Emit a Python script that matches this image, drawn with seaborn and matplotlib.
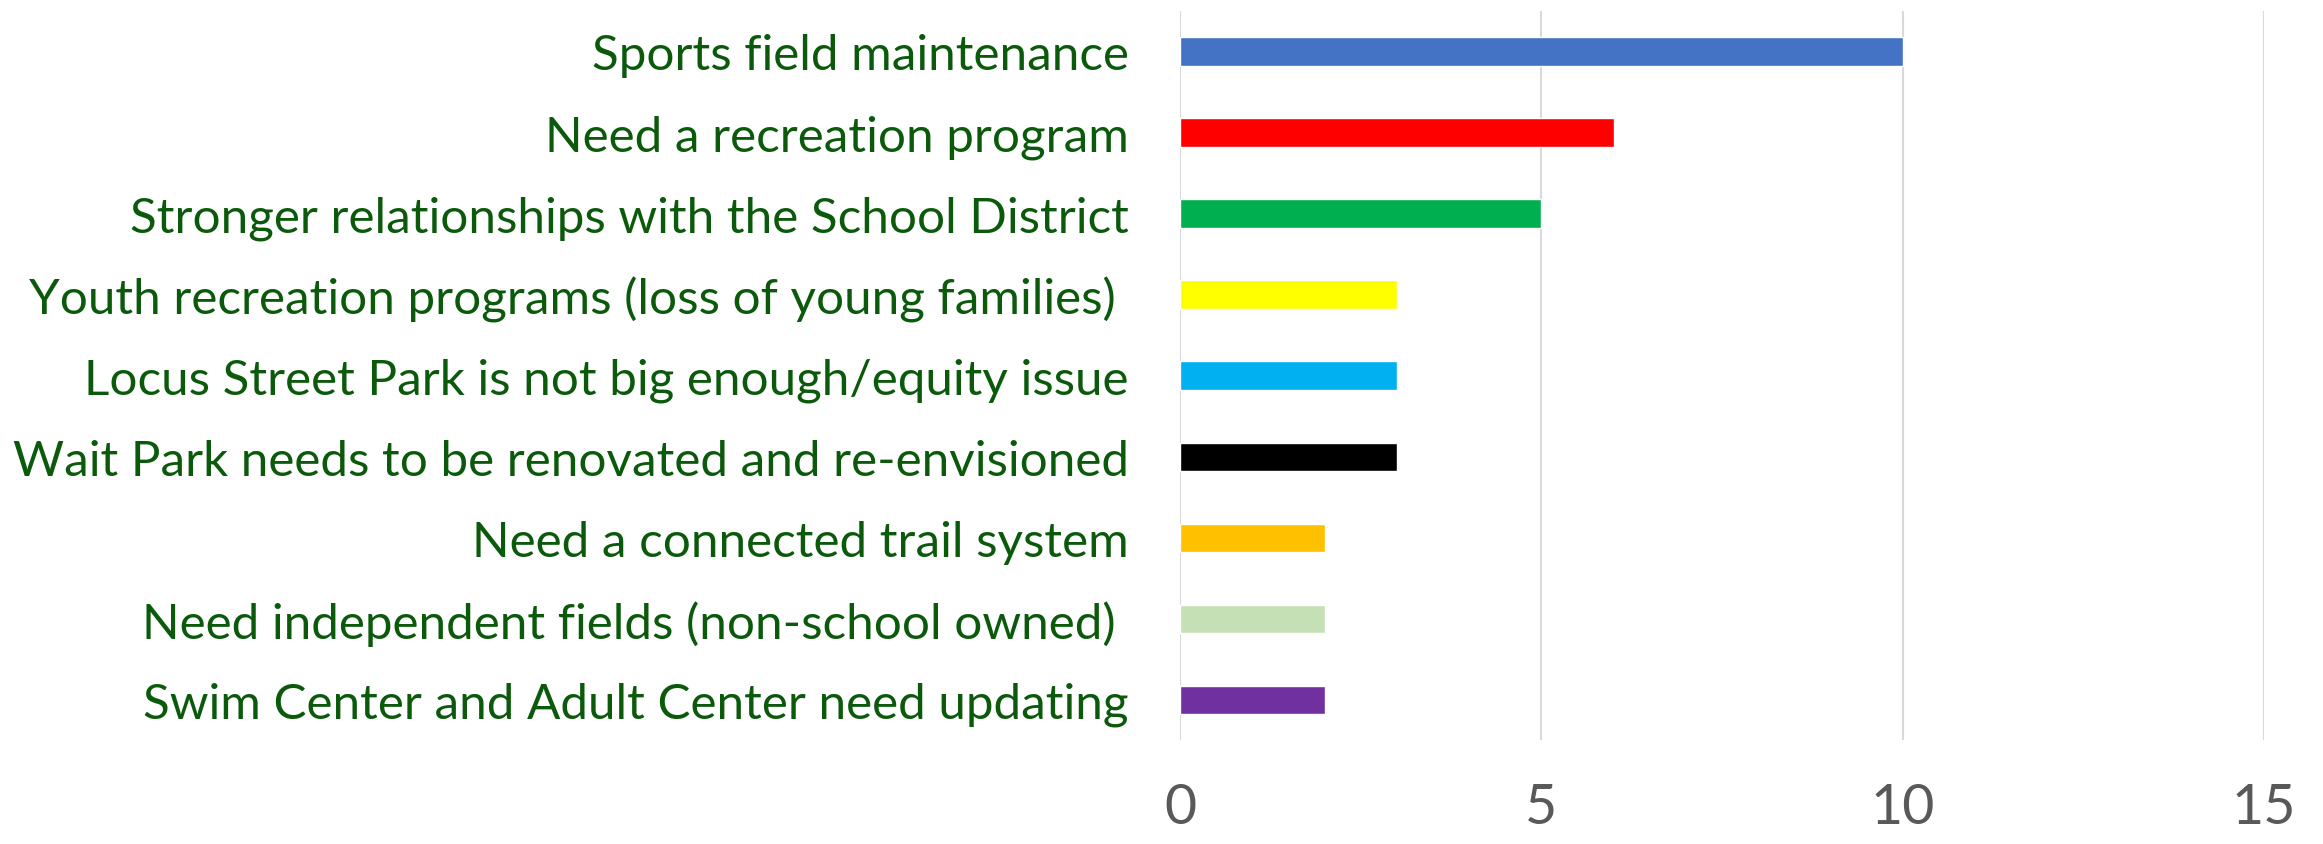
#!/usr/bin/env python3

import pandas as pd
import matplotlib
matplotlib.use("Agg")
import matplotlib.pyplot as plt
import seaborn as sb

# chart data #
issues = [
    "Sports field maintenance",
    "Need a recreation program",
    "Stronger relationships with the School District",
    "Youth recreation programs (loss of young families) ",
    "Locus Street Park is not big enough/equity issue",
    "Wait Park needs to be renovated and re-envisioned",
    "Need a connected trail system",
    "Need independent fields (non-school owned) ",
    "Swim Center and Adult Center need updating",
]
counts = [10, 6, 5, 3, 3, 3, 2, 2, 2]
bar_colors = ["#4472C4", "#FF0000", "#00B050", "#FFFF00", "#00B0F0",
              "#000000", "#FFC000", "#C5E0B4", "#7030A0"]
x_ticks = [0, 5, 10, 15]

df = pd.DataFrame({"issue": issues, "count": counts})

sb.set_style("white")
plt.rcParams["font.family"] = ["Lato", "DejaVu Sans"]

fig = plt.figure(figsize=(23.23, 8.45), dpi=100)
ax = fig.add_axes([0.508, 0.1225, 0.4666, 0.8635])

sb.barplot(data=df, x="count", y="issue", hue="issue", palette=bar_colors,
           orient="h", width=0.35, legend=False, ax=ax, saturation=1)

# configure plot #
ax.set_xlim(0, 15)
ax.set_xticks(x_ticks)
ax.set_ylim(8.5, -0.5)
ax.xaxis.grid(True, color="#D9D9D9", linewidth=1.5)
ax.set_axisbelow(True)
for side in ["top", "right", "bottom", "left"]:
    ax.spines[side].set_visible(False)
ax.set_xlabel("")
ax.set_ylabel("")
ax.tick_params(axis="x", length=0, pad=30, labelsize=40, labelcolor="#595959")
ax.tick_params(axis="y", length=0, pad=37, labelsize=35.6, labelcolor="#0B5A0B")

plt.savefig("out.png", dpi=100)
